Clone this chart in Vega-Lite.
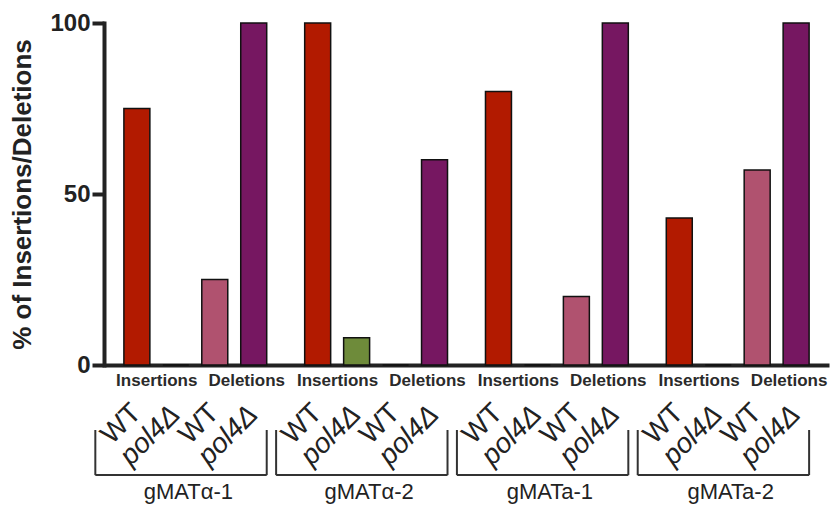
{
  "$schema": "https://vega.github.io/schema/vega-lite/v6.json",
  "width": 725,
  "height": 342,
  "autosize": {"type": "none"},
  "padding": {"left": 104, "top": 23, "right": 4, "bottom": 140},
  "background": "white",
  "config": {"view": {"stroke": null}, "font": "Liberation Sans"},
  "datasets": {
    "bars": [
      {"group": "gMATα-1", "genotype": "WT", "type": "Insertions", "series": "WT Insertions", "percent": 75},
      {"group": "gMATα-1", "genotype": "pol4Δ", "type": "Insertions", "series": "pol4Δ Insertions", "percent": 0},
      {"group": "gMATα-1", "genotype": "WT", "type": "Deletions", "series": "WT Deletions", "percent": 25},
      {"group": "gMATα-1", "genotype": "pol4Δ", "type": "Deletions", "series": "pol4Δ Deletions", "percent": 100},
      {"group": "gMATα-2", "genotype": "WT", "type": "Insertions", "series": "WT Insertions", "percent": 100},
      {"group": "gMATα-2", "genotype": "pol4Δ", "type": "Insertions", "series": "pol4Δ Insertions", "percent": 8},
      {"group": "gMATα-2", "genotype": "WT", "type": "Deletions", "series": "WT Deletions", "percent": 0},
      {"group": "gMATα-2", "genotype": "pol4Δ", "type": "Deletions", "series": "pol4Δ Deletions", "percent": 60},
      {"group": "gMATa-1", "genotype": "WT", "type": "Insertions", "series": "WT Insertions", "percent": 80},
      {"group": "gMATa-1", "genotype": "pol4Δ", "type": "Insertions", "series": "pol4Δ Insertions", "percent": 0},
      {"group": "gMATa-1", "genotype": "WT", "type": "Deletions", "series": "WT Deletions", "percent": 20},
      {"group": "gMATa-1", "genotype": "pol4Δ", "type": "Deletions", "series": "pol4Δ Deletions", "percent": 100},
      {"group": "gMATa-2", "genotype": "WT", "type": "Insertions", "series": "WT Insertions", "percent": 43},
      {"group": "gMATa-2", "genotype": "pol4Δ", "type": "Insertions", "series": "pol4Δ Insertions", "percent": 0},
      {"group": "gMATa-2", "genotype": "WT", "type": "Deletions", "series": "WT Deletions", "percent": 57},
      {"group": "gMATa-2", "genotype": "pol4Δ", "type": "Deletions", "series": "pol4Δ Deletions", "percent": 100}
    ],
    "groups": [
      {"group": "gMATα-1"}, {"group": "gMATα-2"}, {"group": "gMATa-1"}, {"group": "gMATa-2"}
    ]
  },
  "layer": [
    {
      "data": {"name": "bars"},
      "mark": {"type": "bar", "stroke": "#111111", "strokeWidth": 1.5},
      "encoding": {
        "x": {
          "field": "group", "type": "nominal", "sort": null, "title": null,
          "scale": {"domain": ["gMATα-1", "gMATα-2", "gMATa-1", "gMATa-2"], "paddingInner": 0.21, "paddingOuter": 0.11},
          "axis": {
            "orient": "bottom", "ticks": false, "domainWidth": 4, "domainColor": "#222222",
            "labelFontSize": 22, "labelColor": "#222222", "labelPadding": 116, "labelOffset": -7,
            "labelFont": "Liberation Sans", "labelAngle": 0
          }
        },
        "xOffset": {
          "field": "series", "type": "nominal", "sort": null,
          "scale": {"domain": ["WT Insertions", "pol4Δ Insertions", "WT Deletions", "pol4Δ Deletions"], "paddingInner": 0.333, "paddingOuter": 0}
        },
        "y": {
          "field": "percent", "type": "quantitative", "title": "% of Insertions/Deletions",
          "scale": {"domain": [0, 100], "nice": false, "zero": true},
          "axis": {
            "values": [0, 50, 100], "grid": false, "domainWidth": 4, "domainColor": "#222222", "domainCap": "square",
            "tickSize": 12, "tickWidth": 4, "tickColor": "#222222",
            "labelFontSize": 24, "labelFontWeight": "bold", "labelColor": "#222222", "labelPadding": 2,
            "labelFont": "Liberation Sans",
            "titleFontSize": 26, "titleFontWeight": "bold", "titleColor": "#222222", "titleFont": "Liberation Sans",
            "titlePadding": 14
          }
        },
        "color": {
          "field": "series", "type": "nominal", "sort": null, "legend": null,
          "scale": {"domain": ["WT Insertions", "pol4Δ Insertions", "WT Deletions", "pol4Δ Deletions"], "range": ["#B21A00", "#6E8B3A", "#B0526F", "#761761"]}
        }
      }
    },
    {
      "data": {"name": "bars"},
      "transform": [{"filter": "datum.series === 'WT Insertions'"}],
      "mark": {"type": "text", "fontSize": 17, "fontWeight": "bold", "color": "#2a2a2a", "baseline": "middle", "align": "center"},
      "encoding": {
        "x": {"field": "group", "type": "nominal", "sort": null, "title": null, "bandPosition": 0.23},
        "y": {"datum": -4.7},
        "text": {"field": "type"}
      }
    },
    {
      "data": {"name": "bars"},
      "transform": [{"filter": "datum.series === 'WT Deletions'"}],
      "mark": {"type": "text", "fontSize": 17, "fontWeight": "bold", "color": "#2a2a2a", "baseline": "middle", "align": "center"},
      "encoding": {
        "x": {"field": "group", "type": "nominal", "sort": null, "title": null, "bandPosition": 0.86},
        "y": {"datum": -4.7},
        "text": {"field": "type"}
      }
    },
    {
      "data": {"name": "bars"},
      "transform": [{"filter": "datum.genotype === 'WT'"}],
      "mark": {"type": "text", "fontSize": 28, "color": "#222222", "angle": 315, "align": "right", "baseline": "middle"},
      "encoding": {
        "x": {"field": "group", "type": "nominal", "sort": null, "title": null, "bandPosition": 0.065},
        "xOffset": {"field": "series", "type": "nominal", "sort": null},
        "y": {"datum": -12.8},
        "text": {"field": "genotype"}
      }
    },
    {
      "data": {"name": "bars"},
      "transform": [{"filter": "datum.genotype !== 'WT'"}],
      "mark": {"type": "text", "fontSize": 28, "fontStyle": "italic", "color": "#222222", "angle": 315, "align": "right", "baseline": "middle"},
      "encoding": {
        "x": {"field": "group", "type": "nominal", "sort": null, "title": null, "bandPosition": 0.075},
        "xOffset": {"field": "series", "type": "nominal", "sort": null},
        "y": {"datum": -13.3},
        "text": {"field": "genotype"}
      }
    },
    {
      "data": {"name": "groups"},
      "mark": {"type": "rule", "strokeWidth": 2, "color": "#333333"},
      "encoding": {
        "x": {"field": "group", "type": "nominal", "sort": null, "title": null, "bandPosition": -0.2},
        "y": {"datum": -19},
        "y2": {"datum": -32.2}
      }
    },
    {
      "data": {"name": "groups"},
      "mark": {"type": "rule", "strokeWidth": 2, "color": "#333333"},
      "encoding": {
        "x": {"field": "group", "type": "nominal", "sort": null, "title": null, "bandPosition": 1.0},
        "y": {"datum": -19},
        "y2": {"datum": -32.2}
      }
    },
    {
      "data": {"name": "groups"},
      "mark": {"type": "rule", "strokeWidth": 2, "color": "#333333"},
      "encoding": {
        "x": {"field": "group", "type": "nominal", "sort": null, "title": null, "bandPosition": -0.2},
        "x2": {"field": "group", "bandPosition": 1.0},
        "y": {"datum": -32.2}
      }
    }
  ]
}
